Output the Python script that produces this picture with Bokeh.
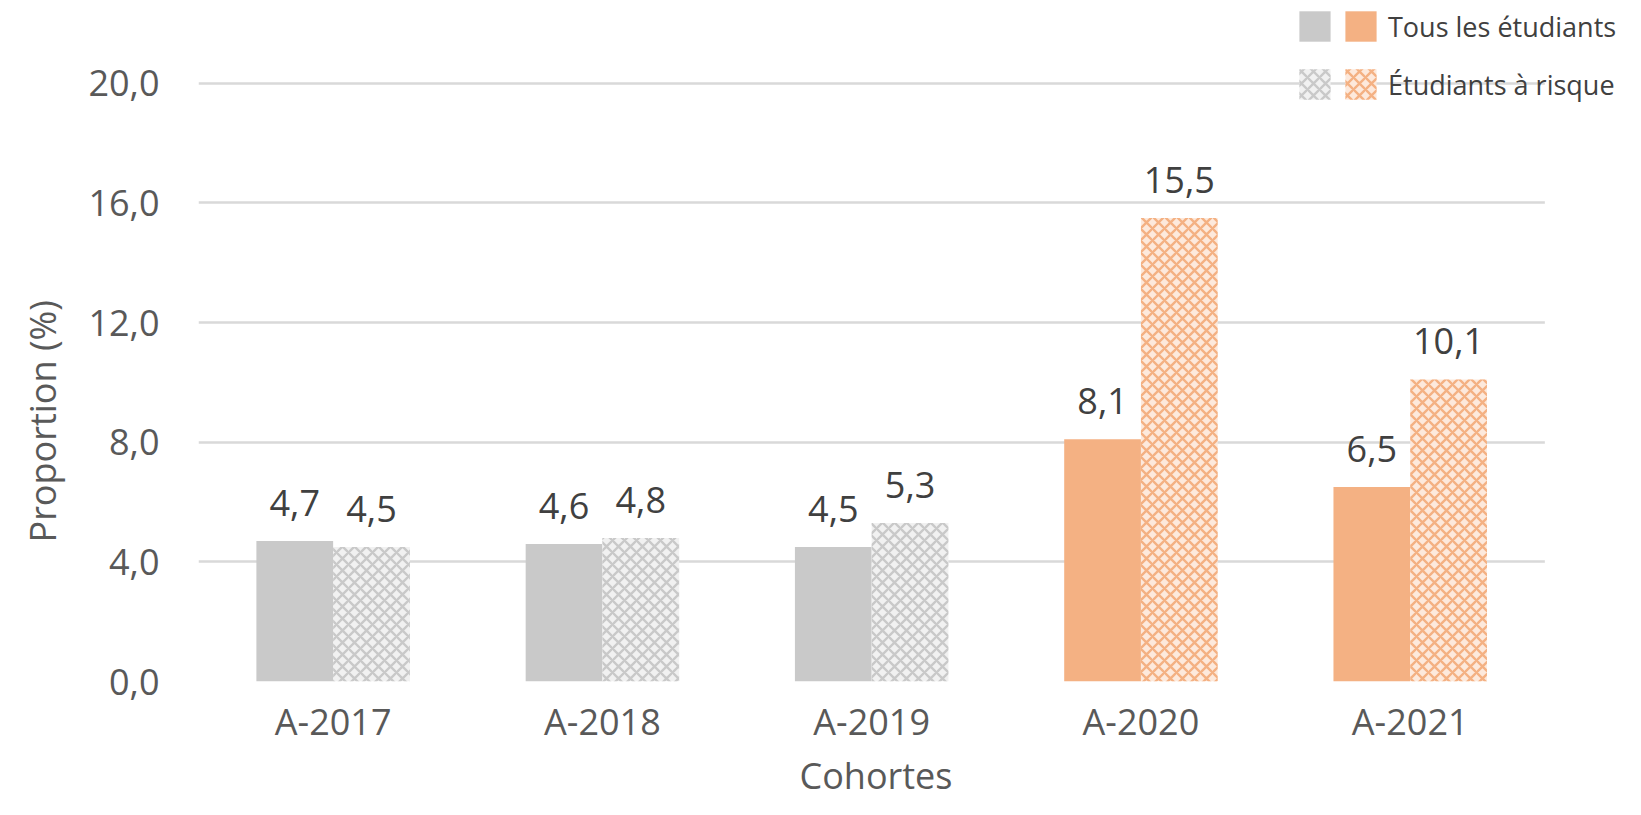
from bokeh.plotting import figure
from bokeh.models import (ColumnDataSource, Range1d, LabelSet, Legend, LegendItem, BoxAnnotation,
                          FixedTicker, CustomJSTickFormatter, Title)
from bokeh.core.properties import value
from bokeh.embed import file_html
from bokeh.resources import INLINE

# ---- data ----
cohorts = ["A-2017", "A-2018", "A-2019", "A-2020", "A-2021"]
tous = [4.7, 4.6, 4.5, 8.1, 6.5]
risque = [4.5, 4.8, 5.3, 15.5, 10.1]
highlighted = ["A-2020", "A-2021"]
series_names = ["Tous les étudiants", "Étudiants à risque"]
y_ticks = [0, 4, 8, 12, 16, 20]
x_title = "Cohortes"
y_title = "Proportion (%)"

GRAY = "#c9c9c9"
ORANGE = "#f4b183"
colors = [ORANGE if c in highlighted else GRAY for c in cohorts]
pale = ["#fde9dc" if c in highlighted else "#f1f1f1" for c in cohorts]

def fmt(v):
    return f"{v:.1f}".replace(".", ",")

BW = 0.285
xc = [i + 0.5 for i in range(len(cohorts))]          # category centres on the x scale
src = ColumnDataSource(dict(
    xc=xc, x_tous=[x - BW / 2 for x in xc], x_risk=[x + BW / 2 for x in xc],
    tous=tous, risque=risque, color=colors, pale=pale,
    tous_lbl=[fmt(v) for v in tous], risque_lbl=[fmt(v) for v in risque],
))

FONT = "Open Sans"
W, H = 1625, 799
X_END = len(cohorts) * 1433 / 1352   # frame runs on to the right edge so the legend fits

p = figure(x_range=Range1d(0, X_END), y_range=Range1d(0, 22.77),
           width=W, height=H, output_backend="svg", toolbar_location=None,
           min_border_left=192, min_border_right=0, min_border_top=0, min_border_bottom=0)
p.outline_line_color = None
p.background_fill_color = "white"
p.border_fill_color = "white"

r_tous = p.vbar(x="x_tous", top="tous", width=BW, source=src,
                fill_color="color", line_color=None)
r_risk = p.vbar(x="x_risk", top="risque", width=BW, source=src,
                fill_color="pale", line_color=None,
                hatch_pattern="diagonal_cross", hatch_color="color", hatch_scale=12, hatch_weight=2.4)

for xcol, ycol, tcol in (("x_tous", "tous", "tous_lbl"), ("x_risk", "risque", "risque_lbl")):
    p.add_layout(LabelSet(x=xcol, y=ycol, text=tcol, source=src,
                          text_align="center", text_baseline="alphabetic", y_offset=25,
                          text_font=value(FONT), text_font_size=value("36px"),
                          text_color=value("#404040")))

# mask gridlines past the plot area (the reference grid stops after the last cohort)
p.add_layout(BoxAnnotation(left=len(cohorts), fill_color="white", fill_alpha=1.0,
                           line_color=None, level="underlay"))

# axes
p.yaxis.ticker = FixedTicker(ticks=y_ticks)
p.yaxis.formatter = CustomJSTickFormatter(code="return tick.toFixed(1).replace('.', ',');")
p.xaxis.ticker = FixedTicker(ticks=xc)
p.xaxis.major_label_overrides = {x: c for x, c in zip(xc, cohorts)}
for ax in (p.xaxis[0], p.yaxis[0]):
    ax.axis_line_color = None
    ax.major_tick_line_color = None
    ax.minor_tick_line_color = None
    ax.major_label_text_font = FONT
    ax.major_label_text_font_size = "36px"
    ax.major_label_text_color = "#595959"
p.yaxis.major_label_standoff = 33
p.xaxis.major_label_standoff = 9

# axis titles (placed as titles so they can sit off-centre like the reference)
tcommon = dict(text_font=FONT, text_font_size="36px", text_color="#595959", text_font_style="normal")
p.add_layout(Title(text=x_title, align="left", offset=601, vertical_align="bottom",
                   standoff=0, **tcommon), "below")
p.add_layout(Title(text=y_title, align="left", offset=139, vertical_align="top",
                   standoff=34, **tcommon), "left")

p.xgrid.grid_line_color = None
p.ygrid.grid_line_color = "#d9d9d9"
p.ygrid.grid_line_width = 2.6

# legends: grey swatches column, then orange swatches with labels
common = dict(glyph_width=39, glyph_height=38, label_text_font=FONT, label_text_font_size="27px",
              label_text_color="#404040", background_fill_alpha=0, border_line_color=None,
              padding=0, margin=0, spacing=20)
leg1 = Legend(items=[LegendItem(label=" ", renderers=[r_tous], index=0),
                     LegendItem(label=" ", renderers=[r_risk], index=0)],
              location=(1097, 578), label_standoff=0, label_width=0, **common)
leg2 = Legend(items=[LegendItem(label=series_names[0], renderers=[r_tous], index=3),
                     LegendItem(label=series_names[1], renderers=[r_risk], index=3)],
              location=(1143, 578), label_standoff=8, **common)
p.add_layout(leg1, "center")
p.add_layout(leg2, "center")

open("out.html", "w").write(file_html(p, INLINE))
